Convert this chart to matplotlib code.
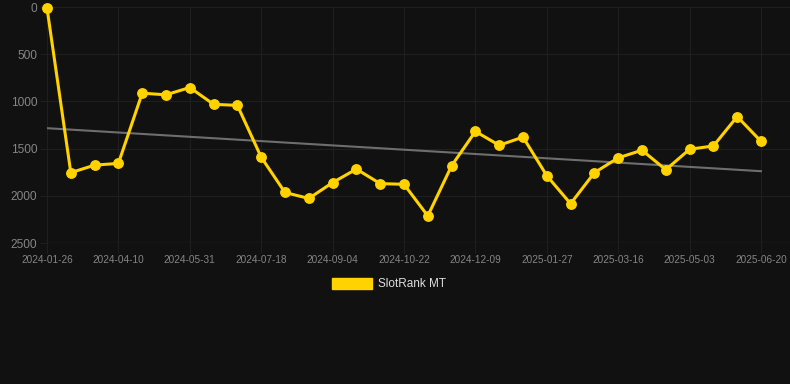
import numpy as np
import matplotlib
matplotlib.use("Agg")
import matplotlib.pyplot as plt
from matplotlib.patches import Patch

plt.rcParams['font.family'] = ['Liberation Sans', 'DejaVu Sans']

# rank per snapshot (lower = better)
ranks = [10, 1755, 1675, 1657, 913, 930, 853, 1031, 1042, 1591,
         1965, 2028, 1860, 1717, 1871, 1878, 2213, 1682, 1318, 1465,
         1378, 1787, 2084, 1755, 1598, 1517, 1724, 1507, 1472, 1161,
         1423]
tick_labels = ['2024-01-26', '2024-04-10', '2024-05-31', '2024-07-18',
               '2024-09-04', '2024-10-22', '2024-12-09', '2025-01-27',
               '2025-03-16', '2025-05-03', '2025-06-20']
y_ticks = [0, 500, 1000, 1500, 2000, 2500]
series_name = 'SlotRank MT'

bg = '#111111'
grid = '#1f1f1f'
yellow = '#FFD200'

x = np.arange(len(ranks))
tick_pos = x[::3]

fig = plt.figure(figsize=(7.9, 3.84), dpi=100, facecolor=bg)
ax = fig.add_axes([47 / 790, 1 - 243 / 384, 743 / 790, 236 / 384])
ax.set_facecolor(bg)

# linear trend through the ranks
k, b = np.polyfit(x, ranks, 1)
ax.plot(x, k * x + b, color='#6e6e6e', lw=1.5, zorder=2)

ax.plot(x, ranks, color=yellow, lw=2.2, marker='o', markersize=6.8,
        zorder=3, clip_on=False)

ax.set_ylim(2500, 0)
ax.set_xlim(0, 30 + 29 / 23.8)
ax.set_yticks(y_ticks)
ax.set_xticks(tick_pos)
ax.set_xticklabels(tick_labels)

ax.grid(True, color=grid, lw=0.8, zorder=0)
for s in ax.spines.values():
    s.set_visible(False)
ax.axhline(2500, color='#2a2a2a', lw=1, zorder=1)

ax.tick_params(axis='y', colors=grid, labelcolor='#858585', labelsize=8.6,
               length=5, width=0.8, pad=2)
ax.tick_params(axis='x', colors=grid, labelcolor='#858585', labelsize=7.2,
               length=7, width=0.8, pad=1.5)

handle = Patch(facecolor=yellow, edgecolor=yellow)
leg = fig.legend([handle], [series_name], loc='center',
                 bbox_to_anchor=(0.492, 0.26), frameon=False, fontsize=8.5,
                 handlelength=3.4, handleheight=1.0, handletextpad=0.5)
for t in leg.get_texts():
    t.set_color('#dddddd')

fig.savefig('out.png', dpi=100, facecolor=bg)
